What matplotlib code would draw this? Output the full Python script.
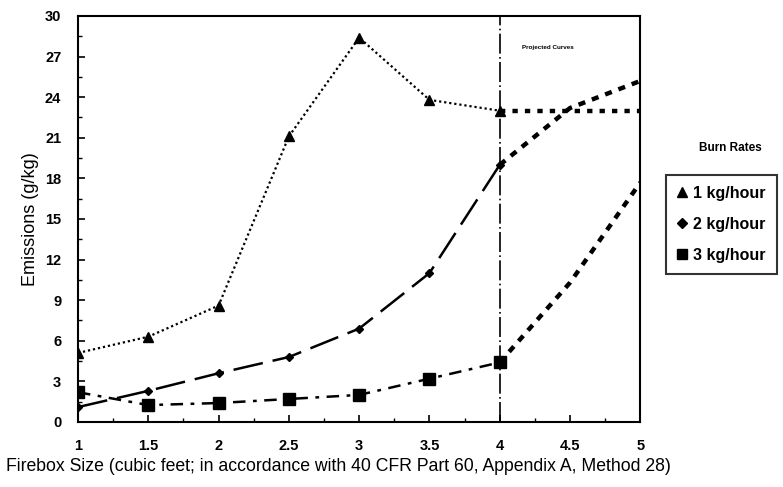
import matplotlib.pyplot as plt
from matplotlib.ticker import MultipleLocator
from matplotlib.lines import Line2D

plt.rcParams['font.family'] = ['Liberation Sans', 'DejaVu Sans']

# measured points (firebox size in cubic feet)
sizes = [1, 1.5, 2, 2.5, 3, 3.5, 4]
rate1 = [5.1, 6.3, 8.6, 21.1, 28.4, 23.8, 23.0]
rate2 = [1.1, 2.3, 3.6, 4.8, 6.9, 11.0, 19.0]
rate3 = [2.2, 1.25, 1.4, 1.7, 2.0, 3.2, 4.4]

# projected part of the curves
proj_sizes = [4, 4.5, 5]
proj1 = [23.0, 23.0, 23.0]
proj2 = [19.0, 23.2, 25.2]
proj3 = [4.4, 10.3, 17.7]

labels = ['1 kg/hour', '2 kg/hour', '3 kg/hour']

fig = plt.figure(figsize=(7.83, 4.87), dpi=100)
ax = fig.add_axes([0.0996, 0.1335, 0.7182, 0.8337])

ax.plot(sizes, rate1, color='black', linestyle=(0, (1, 1.3)), linewidth=1.6,
        marker='^', markersize=6.5)
ax.plot(sizes, rate2, color='black', linestyle=(0, (12, 4)), linewidth=1.8,
        marker='D', markersize=4.5)
ax.plot(sizes, rate3, color='black', linestyle=(0, (5, 3, 1.5, 3)), linewidth=1.8,
        marker='s', markersize=8)

ax.plot(proj_sizes, proj1, color='black', linestyle=(0, (1.2, 1.6)), linewidth=3.2)
ax.plot(proj_sizes, proj2, color='black', linestyle=(0, (1.6, 1.6)), linewidth=3.2)
ax.plot(proj_sizes, proj3, color='black', linestyle=(0, (1.6, 1.6)), linewidth=3.2)

ax.axvline(4, color='black', linestyle=(0, (12, 2, 1, 2)), linewidth=1.2)
ax.text(4.34, 27.7, 'Projected Curves', fontsize=4.5, fontweight='bold', ha='center', va='center')

ax.set_xlim(1, 5)
ax.set_ylim(0, 30)
ax.xaxis.set_major_locator(MultipleLocator(0.5))
ax.xaxis.set_minor_locator(MultipleLocator(0.25))
ax.yaxis.set_major_locator(MultipleLocator(3))
ax.yaxis.set_minor_locator(MultipleLocator(1.5))
ax.set_xticks([1, 1.5, 2, 2.5, 3, 3.5, 4, 4.5, 5])
ax.set_xticklabels(['1', '1.5', '2', '2.5', '3', '3.5', '4', '4.5', '5'])
ax.tick_params(direction='in', which='major', length=5, width=1.2, labelsize=10.5)
ax.tick_params(axis='x', which='major', pad=12)
ax.tick_params(axis='y', which='major', pad=12)
ax.tick_params(direction='in', which='minor', length=3, width=1.0)
for lbl in ax.get_xticklabels() + ax.get_yticklabels():
    lbl.set_fontweight('bold')
for sp in ax.spines.values():
    sp.set_linewidth(1.5)

ax.set_xlabel('Firebox Size (cubic feet; in accordance with 40 CFR Part 60, Appendix A, Method 28)',
              fontsize=12.7, labelpad=4, x=0.4635)
ax.set_ylabel('Emissions (g/kg)', fontsize=13, labelpad=4, y=0.5)

handles = [Line2D([], [], color='black', linestyle='none', marker=m, markersize=s)
           for m, s in [('^', 7), ('D', 5), ('s', 7)]]
leg = fig.legend(handles, labels, loc='upper left', bbox_to_anchor=(0.840, 0.658),
                 prop={'size': 11.5, 'weight': 'bold'}, frameon=True, fancybox=False,
                 edgecolor='black', handlelength=0.6, handletextpad=0.4,
                 labelspacing=1.0, borderpad=0.7)
leg.get_frame().set_linewidth(1.5)
fig.text(0.933, 0.697, 'Burn Rates', fontsize=8.5, fontweight='bold', ha='center', va='center')

fig.savefig('out.png', dpi=100)
